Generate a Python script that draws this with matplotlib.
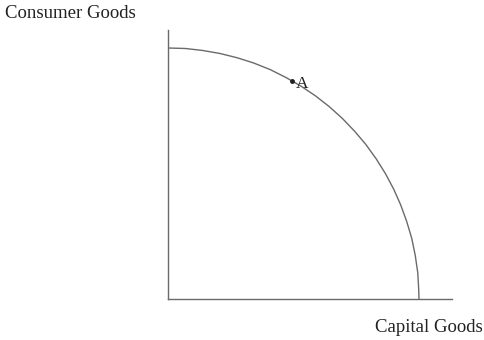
import matplotlib
matplotlib.use("Agg")
import matplotlib.pyplot as plt

# Production possibilities frontier (units: 0..10)
capital_goods = [0.00, 0.70, 1.39, 2.08, 2.76, 3.42, 4.07, 4.69, 5.30, 5.88, 6.43, 6.95, 7.43, 7.88,
                 8.29, 8.66, 8.99, 9.27, 9.51, 9.71, 9.85, 9.95, 9.99, 10.00]
consumer_goods = [10.00, 9.98, 9.90, 9.78, 9.61, 9.40, 9.14, 8.83, 8.48, 8.09, 7.66, 7.19, 6.69, 6.16,
                  5.59, 5.00, 4.38, 3.75, 3.09, 2.42, 1.74, 1.05, 0.35, 0.00]
point_label = "A"
point_x = [4.94]
point_y = [8.69]
x_label = "Capital Goods"
y_label = "Consumer Goods"

plt.rcParams['font.family'] = ['Liberation Serif', 'DejaVu Serif']

W, H = 485, 340
fig = plt.figure(figsize=(W / 100, H / 100), dpi=100)
ax = fig.add_axes([168 / W, 41 / H, 284 / W, 269 / H])
ax.set_xlim(0, 284 / 251 * 10)
ax.set_ylim(0, 269 / 251 * 10)

line_c = "#6a6a6a"
ax.plot(capital_goods, consumer_goods, color=line_c, lw=1.0, solid_capstyle='butt')
ax.plot(point_x, point_y, 'o', color="#222222", ms=2.5)
ax.annotate(point_label, (point_x[0], point_y[0]), xytext=(3, -2), textcoords='offset points',
            fontsize=12.5, color="#222222", va='center', ha='left')

for s in ['top', 'right']:
    ax.spines[s].set_visible(False)
for s in ['left', 'bottom']:
    ax.spines[s].set_color(line_c)
    ax.spines[s].set_linewidth(1.0)
ax.set_xticks([])
ax.set_yticks([])

fig.text(5 / W, 1 - 14 / H, y_label, fontsize=13.5, color="#222222", ha='left', va='center')
fig.text(483 / W, 1 - 327 / H, x_label, fontsize=13.5, color="#222222", ha='right', va='center')

fig.savefig("out.png", dpi=100)
